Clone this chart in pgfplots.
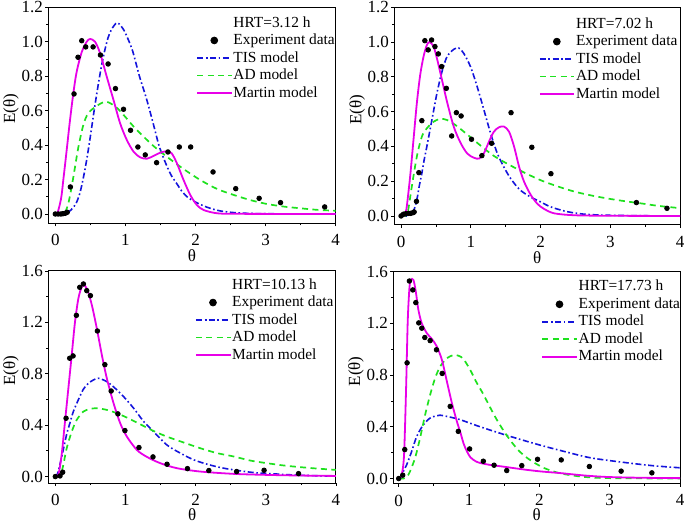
\documentclass[border=0pt]{standalone}
\usepackage{fontspec}
\setmainfont{Liberation Serif}
\usepackage{pgfplots}
\pgfplotsset{compat=1.18}
\definecolor{tisblue}{RGB}{20,20,220}
\definecolor{adgreen}{RGB}{30,225,30}
\definecolor{martin}{RGB}{232,0,232}
\pgfplotsset{
  panel/.style={
    scale only axis,
    xmin=-0.1, xmax=4,
    xtick={0,1,2,3,4}, minor x tick num=1, minor y tick num=1,
    tick pos=left, tick align=outside,
    major tick length=1.6pt, minor tick length=1pt,
    every tick/.style={black, line width=0.4pt},
    axis line style={line width=0.5pt},
    /pgf/number format/assume math mode=true,
    ticklabel style={font=\fontsize{8.5}{9}\selectfont},
    xticklabel style={inner sep=0.5pt, yshift=-3.2pt},
    yticklabel style={inner xsep=0.9pt, /pgf/number format/fixed, /pgf/number format/fixed zerofill, /pgf/number format/precision=1},
    xlabel={θ}, ylabel={E(θ)},
    label style={font=\fontsize{8.5}{9}\selectfont, inner sep=0.5pt},
    xlabel style={at={(axis description cs:0.5,-0.148)}, anchor=center},
    ylabel style={at={(axis description cs:-0.13,0.53)}, anchor=center},
    legend cell align=left,
    legend style={draw=none, fill=none, anchor=north west, inner sep=0pt, outer sep=0pt,
      font=\fontsize{7.7}{8.75}\selectfont, row sep=0pt,
      nodes={inner sep=0.6pt, text height=5.8pt, text depth=1.75pt}},
  },
  expdata/.style={only marks, mark=*, mark size=1.15pt, black, forget plot},
  tisline/.style={color=tisblue, line width=0.8pt, dash pattern=on 3pt off 1.3pt on 0.8pt off 1.3pt, smooth, mark=none},
  adline/.style={color=adgreen, line width=0.85pt, dash pattern=on 3pt off 2.2pt, smooth, mark=none},
  martline/.style={color=martin, line width=0.9pt, smooth, mark=none},
}
\newcommand{\legendhead}{%
  \addlegendimage{empty legend}
  \addlegendimage{only marks, mark=*, mark size=1.7pt, black}}
\begin{document}
\begin{tikzpicture}
\useasboundingbox (0,0) rectangle (342.5pt,-261.5pt);
% ---------------- Panel 1 ----------------
\begin{axis}[panel, at={(24.15pt,-3.65pt)}, anchor=north west,
  width=143.7pt, height=108pt, ymin=-0.054, ymax=1.2,
  ytick={0,0.2,0.4,0.6,0.8,1.0,1.2},
  legend entries={HRT=3.12 h, Experiment data, TIS model, AD model, Martin model},
  legend style={at={(0.515,0.968)}}]
\legendhead
\addplot[tisline] table {
0 0
0.1 0
0.15 0.002
0.2 0.015
0.25 0.035
0.3 0.065
0.35 0.12
0.4 0.21
0.45 0.32
0.5 0.45
0.55 0.59
0.6 0.72
0.65 0.84
0.7 0.94
0.75 1.02
0.8 1.07
0.877 1.11
0.94 1.09
1.0 1.05
1.1 0.95
1.2 0.80
1.3 0.67
1.4 0.52
1.47 0.41
1.52 0.35
1.6 0.27
1.66 0.22
1.735 0.175
1.8 0.135
1.88 0.10
1.95 0.08
2.02 0.065
2.11 0.048
2.21 0.033
2.35 0.018
2.55 0.008
2.8 0.003
3.2 0.001
4 0
};
\addplot[adline] table {
0 0
0.1 0
0.14 0.01
0.186 0.062
0.234 0.159
0.28 0.27
0.33 0.39
0.40 0.517
0.47 0.585
0.59 0.627
0.72 0.652
0.853 0.625
0.97 0.577
1.116 0.508
1.26 0.449
1.40 0.395
1.59 0.333
1.83 0.261
2.07 0.197
2.31 0.145
2.55 0.11
2.78 0.081
3.02 0.058
3.26 0.043
3.5 0.033
3.74 0.024
4 0.019
};
\addplot[martline] table {
0 0
0.03 0.005
0.067 0.06
0.09 0.11
0.114 0.197
0.14 0.29
0.162 0.37
0.21 0.546
0.257 0.70
0.305 0.826
0.377 0.94
0.448 1.0
0.496 1.016
0.567 1.0
0.639 0.933
0.734 0.797
0.83 0.662
0.925 0.526
1.02 0.43
1.116 0.362
1.21 0.329
1.306 0.321
1.40 0.337
1.497 0.356
1.59 0.364
1.66 0.352
1.735 0.294
1.83 0.197
1.926 0.11
2.02 0.052
2.117 0.023
2.31 0.004
2.6 0.001
4 0
};
\addplot[expdata] table {
0 0
0.04 0
0.08 0
0.11 0.002
0.14 0.004
0.17 0.01
0.215 0.157
0.267 0.697
0.324 0.910
0.377 1.006
0.434 0.970
0.539 0.970
0.644 0.923
0.753 0.871
0.858 0.728
0.973 0.608
1.073 0.486
1.178 0.389
1.283 0.343
1.445 0.298
1.607 0.360
1.769 0.389
1.931 0.389
2.250 0.244
2.574 0.147
2.908 0.091
3.213 0.066
3.843 0.041
};
\end{axis}
% ---------------- Panel 2 ----------------
\begin{axis}[panel, at={(197.15pt,-3.65pt)}, anchor=north west,
  width=142.85pt, height=108.85pt, xmin=-0.097, ymin=-0.052, ymax=1.2,
  ytick={0,0.2,0.4,0.6,0.8,1.0,1.2},
  legend entries={HRT=7.02 h, Experiment data, TIS model, AD model, Martin model},
  legend style={at={(0.506,0.963)}}]
\legendhead
\addplot[tisline] table {
0 0
0.1 0
0.15 0.01
0.19 0.04
0.226 0.092
0.26 0.17
0.298 0.245
0.33 0.32
0.37 0.40
0.442 0.552
0.514 0.705
0.587 0.83
0.659 0.916
0.755 0.958
0.827 0.966
0.899 0.935
0.995 0.859
1.091 0.744
1.188 0.61
1.284 0.475
1.38 0.36
1.476 0.28
1.572 0.215
1.692 0.155
1.81 0.12
1.9 0.10
2.005 0.08
2.1 0.06
2.197 0.045
2.39 0.024
2.63 0.01
2.966 0.004
3.5 0.001
4 0
};
\addplot[adline] table {
0 0
0.06 0
0.1 0.03
0.154 0.169
0.226 0.341
0.298 0.456
0.37 0.504
0.466 0.542
0.562 0.558
0.659 0.552
0.779 0.523
0.899 0.485
1.043 0.437
1.188 0.389
1.332 0.345
1.524 0.30
1.764 0.25
2.005 0.205
2.245 0.17
2.486 0.14
2.726 0.118
2.966 0.10
3.207 0.085
3.447 0.072
3.688 0.058
4 0.045
};
\addplot[martline] table {
0 0
0.05 0.002
0.065 0.02
0.082 0.054
0.13 0.226
0.178 0.437
0.226 0.648
0.274 0.81
0.322 0.916
0.37 0.983
0.409 1.0
0.466 0.974
0.514 0.907
0.587 0.782
0.659 0.657
0.755 0.514
0.851 0.422
0.947 0.36
1.043 0.335
1.12 0.330
1.188 0.36
1.26 0.427
1.332 0.485
1.404 0.51
1.476 0.514
1.548 0.485
1.62 0.40
1.692 0.284
1.764 0.197
1.86 0.121
1.957 0.069
2.053 0.04
2.197 0.015
2.486 0.004
3 0.001
4 0
};
\addplot[expdata] table {
0 0
0.034 0.01
0.067 0.013
0.106 0.015
0.139 0.015
0.173 0.019
0.1875 0.023
0.221 0.084
0.255 0.249
0.298 0.548
0.341 1.008
0.389 0.955
0.4375 1.012
0.486 0.974
0.534 0.932
0.582 0.859
0.649 0.734
0.726 0.46
0.793 0.594
0.861 0.575
1.01 0.441
1.159 0.347
1.298 0.418
1.577 0.594
1.875 0.395
2.149 0.243
3.375 0.077
3.813 0.044
};
\end{axis}
% ---------------- Panel 3 ----------------
\begin{axis}[panel, at={(24.15pt,-135.5pt)}, anchor=north west,
  width=143.85pt, height=106pt, ymin=-0.05, ymax=1.6,
  ytick={0,0.4,0.8,1.2,1.6},
  legend entries={HRT=10.13 h, Experiment data, TIS model, AD model, Martin model},
  legend style={at={(0.51,0.975)}}]
\legendhead
\addplot[tisline] table {
0 0
0.03 0.02
0.09 0.15
0.162 0.33
0.21 0.42
0.257 0.506
0.33 0.60
0.4 0.68
0.47 0.725
0.543 0.752
0.615 0.765
0.734 0.739
0.853 0.687
0.973 0.622
1.116 0.532
1.26 0.428
1.4 0.35
1.59 0.246
1.783 0.182
1.974 0.13
2.165 0.096
2.355 0.07
2.546 0.052
2.83 0.031
3.118 0.021
3.5 0.01
4 0.003
};
\addplot[adline] table {
0 0
0.06 0
0.08 0.02
0.114 0.091
0.162 0.22
0.234 0.35
0.305 0.441
0.4 0.506
0.496 0.526
0.591 0.532
0.734 0.519
0.877 0.493
1.02 0.459
1.21 0.407
1.40 0.355
1.59 0.311
1.83 0.265
2.07 0.22
2.31 0.182
2.546 0.156
2.784 0.124
3.02 0.104
3.26 0.086
3.5 0.073
3.74 0.062
4 0.052
};
\addplot[martline] table {
0 0
0.043 0.013
0.09 0.169
0.138 0.428
0.186 0.687
0.234 0.947
0.281 1.206
0.329 1.387
0.377 1.478
0.41 1.491
0.458 1.452
0.52 1.336
0.591 1.154
0.663 0.947
0.734 0.765
0.83 0.571
0.925 0.415
1.02 0.311
1.163 0.207
1.306 0.153
1.497 0.104
1.735 0.065
2.069 0.039
2.546 0.021
3.02 0.013
3.5 0.008
4 0.005
};
\addplot[expdata] table {
0 0
0.067 0.005
0.105 0.034
0.153 0.454
0.205 0.921
0.253 0.939
0.3 1.255
0.348 1.473
0.4 1.499
0.448 1.447
0.5 1.408
0.6 1.133
0.706 0.871
0.796 0.666
0.892 0.488
0.992 0.358
1.192 0.226
1.392 0.153
1.592 0.096
1.883 0.062
2.188 0.047
2.584 0.039
2.975 0.049
3.466 0.023
};
\end{axis}
% ---------------- Panel 4 ----------------
\begin{axis}[panel, at={(196.65pt,-135.85pt)}, anchor=north west,
  width=143.35pt, height=106pt, xmin=-0.077, ymin=-0.04, ymax=1.6,
  ytick={0,0.4,0.8,1.2,1.6},
  legend entries={HRT=17.73 h, Experiment data, TIS model, AD model, Martin model},
  legend style={at={(0.517,0.97)}}]
\legendhead
\addplot[tisline] table {
0 0
0.03 0.01
0.06 0.05
0.114 0.108
0.185 0.211
0.257 0.327
0.352 0.417
0.447 0.468
0.542 0.486
0.59 0.49
0.732 0.475
0.875 0.455
1.16 0.40
1.56 0.33
2.0 0.26
2.35 0.21
2.73 0.16
3.2 0.125
3.6 0.10
4 0.083
};
\addplot[adline] table {
0 0
0.07 0
0.12 0.015
0.162 0.057
0.233 0.16
0.304 0.314
0.376 0.494
0.447 0.648
0.518 0.777
0.59 0.867
0.685 0.931
0.78 0.955
0.85 0.95
0.92 0.925
1.017 0.84
1.1 0.75
1.2 0.655
1.3 0.55
1.4 0.45
1.54 0.33
1.7 0.22
1.85 0.15
2.06 0.083
2.3 0.04
2.63 0.013
3 0.003
4 0
};
\addplot[martline] table {
0 0
0.043 0.031
0.076 0.185
0.105 0.70
0.128 1.214
0.152 1.471
0.171 1.536
0.209 1.536
0.243 1.446
0.28 1.304
0.328 1.201
0.4 1.124
0.471 1.08
0.542 1.021
0.614 0.918
0.685 0.751
0.756 0.584
0.828 0.44
0.875 0.36
0.923 0.27
0.97 0.21
1.018 0.165
1.09 0.135
1.16 0.12
1.303 0.105
1.445 0.095
1.541 0.088
1.779 0.07
2.017 0.055
2.3 0.042
2.63 0.024
2.968 0.012
3.44 0.006
4 0.003
};
\addplot[expdata] table {
0 0
0.057 0.026
0.086 0.224
0.119 0.895
0.152 1.528
0.2 1.459
0.243 1.361
0.285 1.204
0.328 1.163
0.371 1.091
0.447 1.067
0.537 0.996
0.618 0.813
0.732 0.558
0.847 0.365
1.008 0.229
1.203 0.134
1.356 0.103
1.536 0.062
1.75 0.1
1.974 0.149
2.311 0.144
2.711 0.093
3.163 0.057
3.6 0.044
};
\end{axis}
\end{tikzpicture}
\end{document}
